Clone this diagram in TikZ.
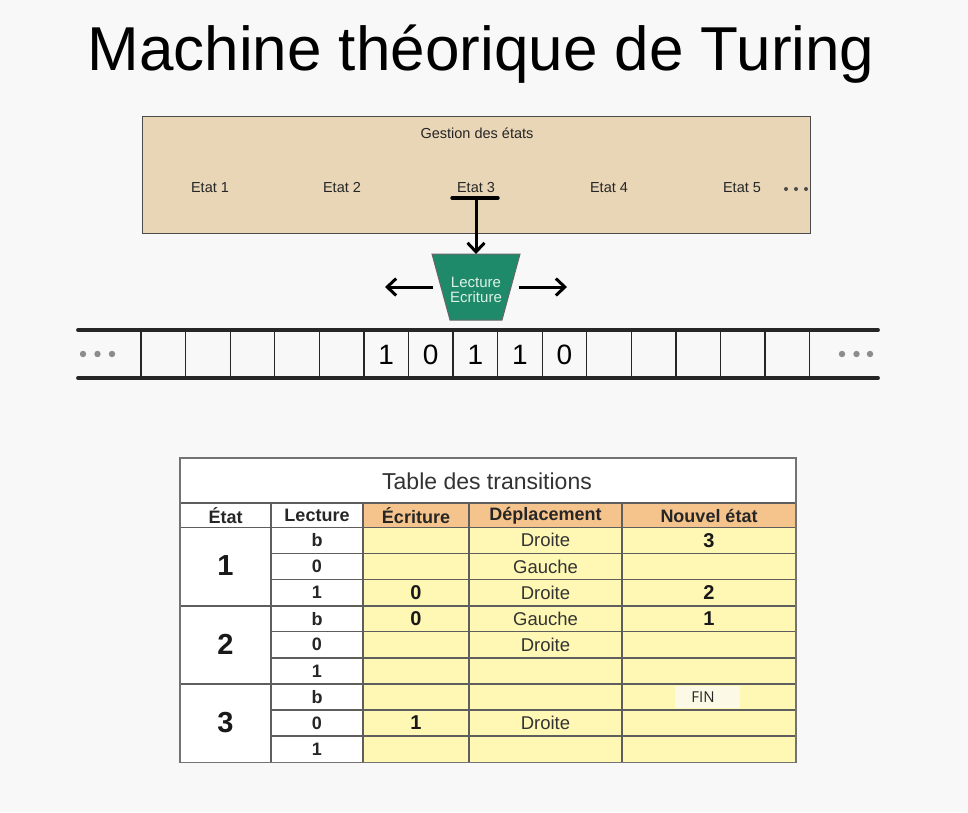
\documentclass[tikz,border=0pt]{standalone}
\usepackage{fontspec}
\setmainfont{Liberation Sans}
\newfontfamily\finfont{Open Sans}
\usetikzlibrary{arrows.meta}
\definecolor{bgc}{HTML}{F7F8F7}
\definecolor{tanbox}{HTML}{E9D6B6}
\definecolor{headgreen}{HTML}{1F8A69}
\definecolor{headtext}{HTML}{DDF2E6}
\definecolor{hdrorange}{HTML}{F5C48C}
\definecolor{cellyellow}{HTML}{FEF8B4}
\definecolor{gridgray}{HTML}{5E5E5E}
\definecolor{dotgray}{HTML}{8C8C8C}
\definecolor{finpatch}{HTML}{FCFAE6}

\begin{document}
\begin{tikzpicture}[x=1pt,y=-1pt,
  small/.style={font=\fontsize{14.5}{16}\selectfont, text=black!85, inner sep=0},
  bigarrow/.style={line width=3, -{Straight Barb[length=9,width=17,line width=3]}},
  tapeline/.style={line width=3.8, line cap=round, black!85},
  cellline/.style={line width=1.3, black!85},
  digit/.style={font=\fontsize{28}{30}\selectfont, inner sep=0},
  grid/.style={line width=1.4, gridgray},
  hdr/.style={font=\bfseries\fontsize{18}{20}\selectfont, text=black!85, inner sep=0},
  lec/.style={font=\bfseries\fontsize{18}{20}\selectfont, text=black!85, inner sep=0},
  val/.style={font=\bfseries\fontsize{20}{22}\selectfont, text=black!90, inner sep=0},
  mov/.style={font=\fontsize{18.5}{20}\selectfont, text=black!80, inner sep=0},
  statenum/.style={font=\bfseries\fontsize{29}{31}\selectfont, text=black!90, inner sep=0},
]
% canvas
\fill[bgc] (0,0) rectangle (968,812);
\useasboundingbox (0,0) rectangle (968,812);

% title
\node (title) at (481,54) {\fontsize{62}{70}\selectfont Machine théorique de Turing};

% state management panel
\node[draw=black!70, line width=1.2, fill=tanbox, minimum width=668, minimum height=117,
      inner sep=0, anchor=north west] (gestion) at (142,116) {};
\node[small] (gtitle) at (477,133) {Gestion des états};
\node[small] (e1) at (210,188) {Etat 1};
\node[small] (e2) at (342,188) {Etat 2};
\node[small] (e3) at (476,188) {Etat 3};
\node[small] (e4) at (609,188) {Etat 4};
\node[small] (e5) at (742,188) {Etat 5};
\foreach \x in {786,796,806} \fill[black!70] (\x,189) circle (2);

% selector bar under the current state
\coordinate (barl) at (452,198);
\coordinate (barr) at (498,198);
\coordinate (barm) at (476,198);
\draw[line width=3.4, line cap=round] (barl) -- (barr);

% read/write head
\coordinate (headtop) at (476,254);
\draw[fill=headgreen, draw=black!60, line width=1] (432,254) -- (520,254) -- (502,320) -- (450,320) -- cycle;
\node[align=center, text=headtext, font=\fontsize{15}{15.5}\selectfont, inner sep=0] (head) at (476,290) {Lecture\\Ecriture};
\draw[bigarrow] (barm) -- (headtop);

% head movement arrows
\coordinate (hl) at (433,287);
\coordinate (hlend) at (385,287);
\coordinate (hr) at (519,287);
\coordinate (hrend) at (567,287);
\draw[bigarrow] (hl) -- (hlend);
\draw[bigarrow] (hr) -- (hrend);

% tape
\coordinate (tl1) at (78,330); \coordinate (tr1) at (878,330);
\coordinate (tl2) at (78,378); \coordinate (tr2) at (878,378);
\draw[tapeline] (tl1) -- (tr1);
\draw[tapeline] (tl2) -- (tr2);
\foreach \i in {0,...,15} {
  \draw[cellline] ({141+44.58*\i},331.5) -- ({141+44.58*\i},376.5);
}
\foreach \d [count=\k from 5] in {1,0,1,1,0} {
  \node[digit] (cell\k) at ({141+44.58*\k+22.29},355) {\d};
}
\foreach \x in {83,97.5,112,842,856.5,870} \fill[dotgray] (\x,354) circle (3.2);

% transition table
\def\rowtop{527.3}
\def\rh{26.1}
\fill[white] (180,458) rectangle (796,762.2);
\fill[hdrorange] (363,503) rectangle (796,527.3);
\fill[cellyellow] (363,527.3) rectangle (796,762.2);
\fill[finpatch] (675,686) rectangle (740,708);

% horizontal rules
\draw[grid] (180,503) -- (796,503);
\draw[grid] (180,527.3) -- (796,527.3);
\foreach \k in {1,2,4,5,7,8} {
  \draw[grid] (271,{\rowtop+\rh*\k}) -- (796,{\rowtop+\rh*\k});
}
\foreach \k in {3,6} {
  \draw[line width=1.8, gridgray] (180,{\rowtop+\rh*\k}) -- (796,{\rowtop+\rh*\k});
}
% vertical rules
\foreach \x in {271,363,469,622} {
  \draw[grid] (\x,503) -- (\x,762.2);
}
\draw[line width=1.4, black!55] (180,458) rectangle (796,762.2);

\node[font=\fontsize{23}{25}\selectfont, text=black!80, inner sep=0] (ttitle) at (487,481) {Table des transitions};

% header
\node[hdr] (h1) at (225.5,515.5) {État};
\node[hdr] (h2) at (317,515.5) {Lecture};
\node[hdr] (h3) at (416,515.5) {Écriture};
\node[hdr] (h4) at (545.5,515.5) {Déplacement};
\node[hdr] (h5) at (709,515.5) {Nouvel état};

% state column
\node[statenum] (s1) at (225.5,566) {1};
\node[statenum] (s2) at (225.5,644.5) {2};
\node[statenum] (s3) at (225.5,722.5) {3};

% read symbol column
\foreach \s [count=\k from 0] in {b,0,1,b,0,1,b,0,1} {
  \node[lec] (l\k) at (317,{\rowtop+\rh*(\k+0.5)}) {\s};
}

% written symbols
\node[val] (w2) at (416,{\rowtop+\rh*2.5}) {0};
\node[val] (w3) at (416,{\rowtop+\rh*3.5}) {0};
\node[val] (w7) at (416,{\rowtop+\rh*7.5}) {1};

% moves
\node[mov] (m0) at (545.5,{\rowtop+\rh*0.5}) {Droite};
\node[mov] (m1) at (545.5,{\rowtop+\rh*1.5}) {Gauche};
\node[mov] (m2) at (545.5,{\rowtop+\rh*2.5}) {Droite};
\node[mov] (m3) at (545.5,{\rowtop+\rh*3.5}) {Gauche};
\node[mov] (m4) at (545.5,{\rowtop+\rh*4.5}) {Droite};
\node[mov] (m7) at (545.5,{\rowtop+\rh*7.5}) {Droite};

% next states
\node[val] (n0) at (709,{\rowtop+\rh*0.5}) {3};
\node[val] (n2) at (709,{\rowtop+\rh*2.5}) {2};
\node[val] (n3) at (709,{\rowtop+\rh*3.5}) {1};
\node[font=\finfont\fontsize{15}{17}\selectfont, text=black!85, inner sep=0] (n6) at (703,{\rowtop+\rh*6.5}) {FIN};
\end{tikzpicture}
\end{document}
